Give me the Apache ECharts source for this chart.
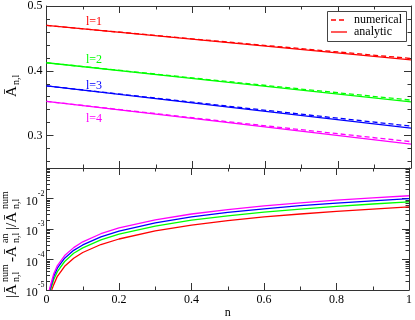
<!DOCTYPE html>
<html lang="en">
<head>
    <meta charset="UTF-8">
    <title>A n,l</title>
    <script src="https://cdn.jsdelivr.net/npm/echarts@6/dist/echarts.min.js"></script>
    <style>
        body, html { padding: 0; margin: 0; background: #fff; }
        #chart-panel { width: 415px; height: 320px; }
    </style>
</head>
<body>
    <div id="chart-panel"></div>
    <script>
        // top panel: A(n,l) vs n
        var nTop = [0, 0.5, 1];
        var analytic1 = [0.470, 0.4434, 0.4168];
        var numerical1 = [0.470, 0.4442, 0.4190];
        var analytic2 = [0.4124, 0.3822, 0.3520];
        var numerical2 = [0.4124, 0.3832, 0.3547];
        var analytic3 = [0.3767, 0.3441, 0.3115];
        var numerical3 = [0.3767, 0.3453, 0.3146];
        var analytic4 = [0.3528, 0.3199, 0.2870];
        var numerical4 = [0.3528, 0.3213, 0.2906];

        // bottom panel: relative error
        var errOnset = [0.0143, 0.011, 0.009, 0.0077];
        var nErr = [0.02, 0.03, 0.05, 0.075, 0.1, 0.15, 0.2, 0.3, 0.4, 0.5, 0.6, 0.7, 0.8, 0.9, 1.0];
        var err1 = [1.5e-5, 2.8e-5, 6.0e-5, 1.1e-4, 1.7e-4, 3.1e-4, 4.7e-4, 8.7e-4, 1.35e-3, 1.87e-3, 2.5e-3, 3.1e-3, 3.8e-3, 4.5e-3, 5.3e-3];
        var err2 = [2.2e-5, 4.0e-5, 8.6e-5, 1.6e-4, 2.4e-4, 4.4e-4, 6.8e-4, 1.25e-3, 1.95e-3, 2.7e-3, 3.6e-3, 4.5e-3, 5.5e-3, 6.6e-3, 7.7e-3];
        var err3 = [2.8e-5, 5.2e-5, 1.1e-4, 2.0e-4, 3.0e-4, 5.5e-4, 8.5e-4, 1.6e-3, 2.5e-3, 3.5e-3, 4.6e-3, 5.8e-3, 7.1e-3, 8.4e-3, 9.9e-3];
        var err4 = [3.4e-5, 6.3e-5, 1.35e-4, 2.45e-4, 3.8e-4, 7.0e-4, 1.08e-3, 2.0e-3, 3.1e-3, 4.35e-3, 5.7e-3, 7.2e-3, 8.8e-3, 1.05e-2, 1.23e-2];

        var colors = ['#ff0000', '#00ff00', '#0000ff', '#ff00ff'];
        var lineLabels = ['l=1', 'l=2', 'l=3', 'l=4'];

        var topMajor = [0.3, 0.4, 0.5];
        var topMinor = [0.26, 0.28, 0.32, 0.34, 0.36, 0.38, 0.42, 0.44, 0.46, 0.48];
        var logMajor = [1e-5, 1e-4, 1e-3, 1e-2, 1e-1];
        var logMinor = [];
        for (var d = -5; d < -1; d++) {
            for (var m = 2; m <= 9; m++) logMinor.push(m * Math.pow(10, d));
        }

        var font = 'Liberation Serif';
        var axisColor = '#333';

        function xAx(grid, pos, labels) {
            return {
                type: 'value', gridIndex: grid, position: pos, min: 0, max: 1, interval: 0.2,
                axisLine: { lineStyle: { color: axisColor, width: 1 } },
                axisTick: { inside: true, length: 7, lineStyle: { color: axisColor } },
                minorTick: { show: true, splitNumber: 2, length: 3.5, lineStyle: { color: axisColor } },
                splitLine: { show: false },
                axisLabel: { show: labels, margin: 4, color: '#000', fontFamily: font, fontSize: 12 },
                name: labels ? 'n' : '', nameLocation: 'middle', nameGap: 17,
                nameTextStyle: { fontFamily: font, fontSize: 12, color: '#000' }
            };
        }

        function yAx(grid, pos, type, min, max, ticks, len, line, labels) {
            var ax = {
                type: type, gridIndex: grid, position: pos, min: min, max: max,
                axisLine: { show: line, lineStyle: { color: axisColor, width: 1 } },
                axisTick: { inside: true, length: len, customValues: ticks, lineStyle: { color: axisColor } },
                splitLine: { show: false },
                axisLabel: { show: false }
            };
            if (type === 'log') ax.logBase = 10;
            if (labels) {
                ax.axisLabel = {
                    show: true, margin: type === 'log' ? 2 : 4, color: '#000', fontFamily: font, fontSize: 12,
                    customValues: labels.values,
                    formatter: labels.formatter,
                    rich: labels.rich
                };
            }
            return ax;
        }

        var logLabels = {
            values: [1e-5, 1e-4, 1e-3, 1e-2],
            formatter: function (v) {
                return '{b|10}{s|' + Math.round(Math.log10(v)) + '}';
            },
            rich: {
                b: { fontFamily: font, fontSize: 12, color: '#000', lineHeight: 18, verticalAlign: 'bottom' },
                s: { fontFamily: font, fontSize: 8, color: '#000', lineHeight: 8, verticalAlign: 'top' }
            }
        };

        var series = [];
        var numSets = [numerical1, numerical2, numerical3, numerical4];
        var anSets = [analytic1, analytic2, analytic3, analytic4];
        var errSets = [err1, err2, err3, err4];
        for (var i = 0; i < 4; i++) {
            series.push({
                type: 'line', xAxisIndex: 0, yAxisIndex: 0, symbol: 'none', silent: true,
                data: nTop.map(function (n, k) { return [n, anSets[i][k]]; }),
                lineStyle: { color: colors[i], width: 1.3 }
            });
            series.push({
                type: 'line', xAxisIndex: 0, yAxisIndex: 0, symbol: 'none', silent: true,
                data: nTop.map(function (n, k) { return [n, numSets[i][k]]; }),
                lineStyle: { color: colors[i], width: 1.3, type: [5, 3] }
            });
            var pts = [[errOnset[i], 1e-5]].concat(nErr.map(function (n, k) { return [n, errSets[i][k]]; }));
            series.push({
                type: 'line', xAxisIndex: 2, yAxisIndex: 4, symbol: 'none', silent: true,
                data: pts,
                lineStyle: { color: colors[i], width: 1.3 }
            });
        }

        var labelY = [22, 60, 86, 119];
        var graphics = lineLabels.map(function (t, i) {
            return {
                type: 'text', x: 94, y: labelY[i], silent: true,
                style: { text: t, fill: colors[i], font: '12px "Liberation Serif"', align: 'center', verticalAlign: 'middle' }
            };
        });

        // legend
        graphics.push({
            type: 'rect', shape: { x: 327.5, y: 11.5, width: 79, height: 30 },
            style: { fill: '#fff', stroke: '#444', lineWidth: 1 }, z: 10
        });
        graphics.push({
            type: 'line', shape: { x1: 331, y1: 20, x2: 347, y2: 20 }, z: 11,
            style: { stroke: '#ff0000', lineWidth: 1.3, lineDash: [5, 3] }
        });
        graphics.push({
            type: 'line', shape: { x1: 331, y1: 32, x2: 347, y2: 32 }, z: 11,
            style: { stroke: '#ff0000', lineWidth: 1.3 }
        });
        graphics.push({
            type: 'text', x: 354, y: 20, z: 11,
            style: { text: 'numerical', fill: '#000', font: '12px "Liberation Serif"', verticalAlign: 'middle' }
        });
        graphics.push({
            type: 'text', x: 354, y: 32, z: 11,
            style: { text: 'analytic', fill: '#000', font: '12px "Liberation Serif"', verticalAlign: 'middle' }
        });

        // y titles
        var big = '15px "Liberation Serif"', small = '10px "Liberation Serif"';
        function piece(x, y, t, f) {
            return { type: 'text', x: x, y: y, style: { text: t, fill: '#000', font: f, verticalAlign: 'middle' } };
        }
        graphics.push({
            type: 'group', x: 12, y: 97, rotation: Math.PI / 2,
            children: [piece(0, 0, 'Ā', big), piece(12, 4, 'n,l', small)]
        });
        graphics.push({
            type: 'group', x: 12, y: 298, rotation: Math.PI / 2,
            children: [
                piece(0, 0, '|Ā', big),
                piece(16, 4, 'n,l', small), piece(16, -7, 'num', small),
                piece(36, 0, '-Ā', big),
                piece(55, 4, 'n,l', small), piece(55, -7, 'an', small),
                piece(68, 0, '|/Ā', big),
                piece(89, 4, 'n,l', small), piece(89, -7, 'num', small)
            ]
        });

        var option = {
            animation: false,
            backgroundColor: '#fff',
            grid: [
                { left: 46.5, right: 4, top: 5, height: 163 },
                { left: 46.5, right: 4, top: 168, bottom: 24 }
            ],
            xAxis: [xAx(0, 'bottom', false), xAx(0, 'top', false), xAx(1, 'bottom', true), xAx(1, 'top', false)],
            yAxis: [
                yAx(0, 'left', 'value', 0.25, 0.5, topMajor, 7, true, {
                    values: topMajor,
                    formatter: function (v) { return v.toFixed(1); }
                }),
                yAx(0, 'left', 'value', 0.25, 0.5, topMinor, 3.5, false, null),
                yAx(0, 'right', 'value', 0.25, 0.5, topMajor, 7, true, null),
                yAx(0, 'right', 'value', 0.25, 0.5, topMinor, 3.5, false, null),
                yAx(1, 'left', 'log', 1e-5, 1e-1, logMajor, 7, true, logLabels),
                yAx(1, 'left', 'log', 1e-5, 1e-1, logMinor, 3.5, false, null),
                yAx(1, 'right', 'log', 1e-5, 1e-1, logMajor, 7, true, null),
                yAx(1, 'right', 'log', 1e-5, 1e-1, logMinor, 3.5, false, null)
            ],
            series: series,
            graphic: graphics
        };

        var chartVM = echarts.init(document.getElementById('chart-panel'));
        chartVM.setOption(option);
    </script>
</body>
</html>
